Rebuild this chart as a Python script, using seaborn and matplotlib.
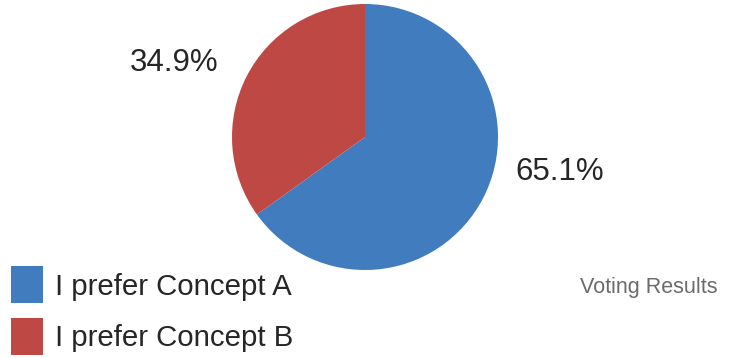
import matplotlib
matplotlib.use("Agg")
import matplotlib.pyplot as plt
import seaborn as sns

categories = ["I prefer Concept A", "I prefer Concept B"]
shares = [65.1, 34.9]
colors = ["#417DBE", "#BE4844"]
title = "Voting Results"

sns.set_theme(style="white")
plt.rcParams["font.family"] = ["Liberation Sans", "DejaVu Sans"]

fig = plt.figure(figsize=(7.38, 3.58), dpi=100)
W, H = 738, 358
cx, cy, r = 365, 137, 133
ax = fig.add_axes([(cx - r) / W, (H - cy - r) / H, 2 * r / W, 2 * r / H])
wedges, _ = ax.pie(shares, colors=colors, startangle=90, counterclock=False,
                   radius=1, wedgeprops=dict(linewidth=0))
ax.set_xlim(-1, 1)
ax.set_ylim(-1, 1)
ax.set_aspect("equal")
ax.axis("off")

label_pos = [(1.466, -0.263), (-1.436, 0.556)]
for v, (x, y) in zip(shares, label_pos):
    ax.text(x, y, f"{v:.1f}%", ha="center", va="center", fontsize=22.5,
            color="#262626", clip_on=False)

leg = fig.legend(wedges, categories, loc="upper left",
                 bbox_to_anchor=(4 / W, (H - 259) / H), frameon=False,
                 fontsize=21.2, handlelength=1.08, handleheight=1.56,
                 handletextpad=0.4, labelspacing=0.48, borderaxespad=0,
                 borderpad=0.25)
for t in leg.get_texts():
    t.set_color("#262626")

fig.text(718 / W, (H - 288) / H, title, ha="right", va="center",
         fontsize=15.5, color="#6b6b6b")

fig.savefig("out.png", dpi=100)
